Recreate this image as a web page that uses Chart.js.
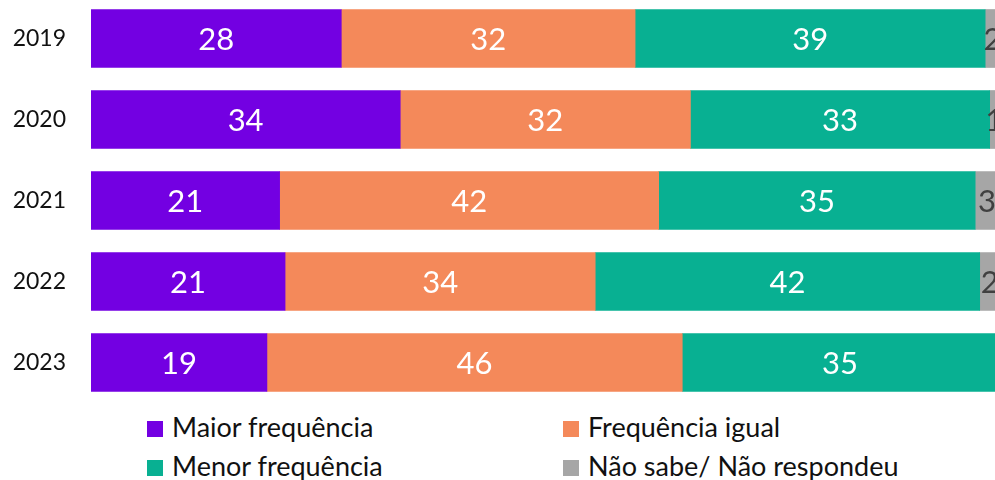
<!DOCTYPE html>
<html>
<head>
    <meta charset="utf-8">
    <title>Frequência</title>
    <script src="https://cdn.jsdelivr.net/npm/chart.js"></script>
    <style>
        body { margin: 0; width: 995px; height: 480px; overflow: hidden; position: relative; background: #fff; font-family: Lato, sans-serif; }
        #freqChart { position: absolute; left: 0; top: -2px; }
        #legend { position: absolute; left: 0; top: 405px; width: 995px; }
        .item { position: absolute; font-size: 27px; color: #111; white-space: nowrap; line-height: 30px; }
        .item span { display: inline-block; width: 16px; height: 16px; margin-right: 9px; vertical-align: 0px; }
    </style>
</head>
<body>
    <canvas id="freqChart" width="1045" height="405"></canvas>
    <div id="legend"></div>

    <script>
        const years = ['2019', '2020', '2021', '2022', '2023'];
        const seriesNames = ['Maior frequência', 'Frequência igual', 'Menor frequência', 'Não sabe/ Não respondeu'];
        const colors = ['#7300e2', '#f4895a', '#08b092', '#a6a6a6'];

        // shares in % (labels are the rounded values)
        const maior = [27.6, 34.1, 20.8, 21.4, 19.4];
        const igual = [32.4, 32.0, 41.8, 34.2, 45.8];
        const menor = [38.6, 33.0, 34.9, 42.4, 34.8];
        const naoSabe = [1.6, 1.0, 2.6, 2.2, 0];

        const values = [maior, igual, menor, naoSabe];

        // draw the numbers in the middle of each segment
        const segLabels = {
            id: 'segLabels',
            afterDatasetsDraw(chart) {
                const ctx = chart.ctx;
                ctx.save();
                ctx.font = '31px Lato';
                ctx.textAlign = 'center';
                ctx.textBaseline = 'middle';
                chart.data.datasets.forEach((ds, i) => {
                    chart.getDatasetMeta(i).data.forEach((bar, j) => {
                        const v = ds.data[j];
                        if (!v) return;
                        ctx.fillStyle = i === 3 ? '#404040' : '#ffffff';
                        ctx.fillText(Math.round(v), (bar.base + bar.x) / 2, bar.y + 1);
                    });
                });
                ctx.restore();
            }
        };

        new Chart(document.getElementById('freqChart'), {
            type: 'bar',
            data: {
                labels: years,
                datasets: seriesNames.map((name, i) => ({
                    label: name,
                    data: values[i],
                    backgroundColor: colors[i],
                    borderWidth: 0,
                    barThickness: 58
                }))
            },
            options: {
                indexAxis: 'y',
                responsive: false,
                animation: false,
                layout: { padding: 0 },
                plugins: { legend: { display: false }, tooltip: { enabled: false } },
                scales: {
                    x: { stacked: true, min: 0, max: 105.2, display: false },
                    y: {
                        stacked: true,
                        grid: { display: false, drawTicks: false },
                        border: { display: false },
                        ticks: { color: '#111', font: { family: 'Lato', size: 23 }, padding: 25 },
                        afterFit: s => { s.width = 91; s.paddingTop = 0; s.paddingBottom = 0; }
                    }
                }
            },
            plugins: [segLabels]
        });

        // legend in two columns under the chart
        const legendPos = [[147, 7], [563, 7], [147, 46], [563, 46]];
        const legend = document.getElementById('legend');
        seriesNames.forEach((name, i) => {
            const d = document.createElement('div');
            d.className = 'item';
            d.style.left = legendPos[i][0] + 'px';
            d.style.top = legendPos[i][1] + 'px';
            d.innerHTML = '<span style="background:' + colors[i] + '"></span>' + name;
            legend.appendChild(d);
        });
    </script>
</body>
</html>
